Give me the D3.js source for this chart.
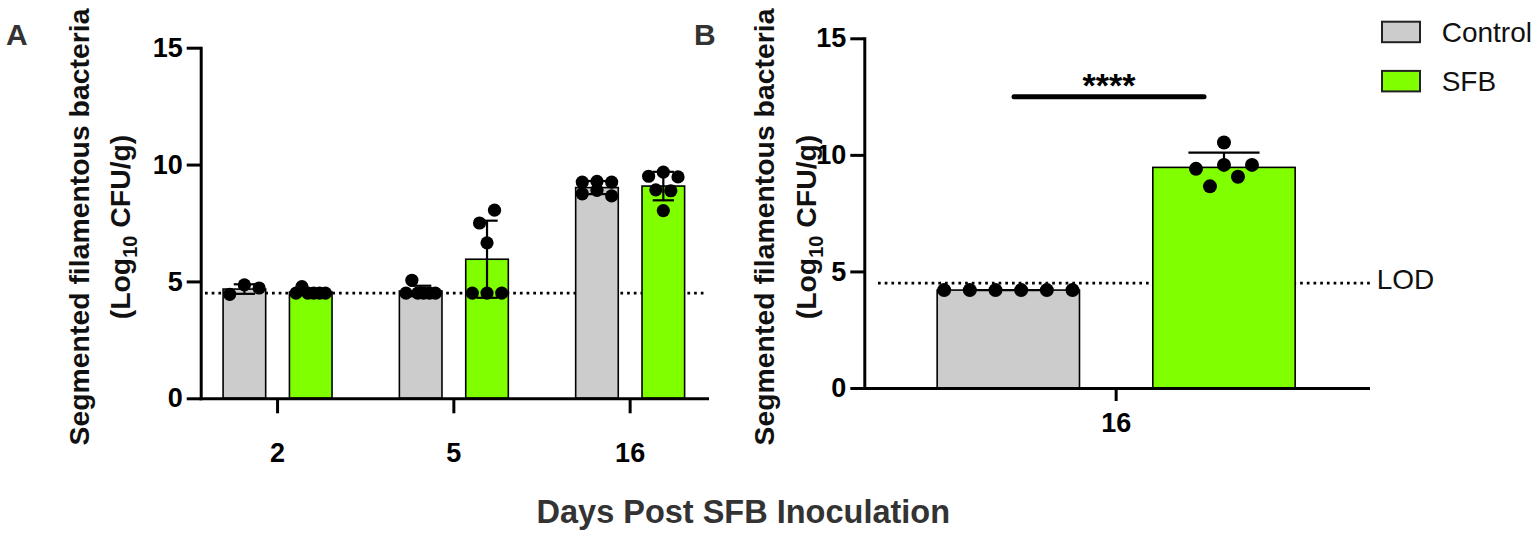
<!DOCTYPE html>
<html><head><meta charset="utf-8">
<script src="https://cdn.jsdelivr.net/npm/d3@7"></script>
<style>
html,body{margin:0;padding:0;background:#fff;}
svg{display:block;font-family:"Liberation Sans",Arial,Helvetica,sans-serif;}
</style></head><body>
<svg id="chart" width="1536" height="537"></svg>
<script>
// ---------- data ----------
const seriesNames = ["Control", "SFB"];
const daysA = ["2", "5", "16"];
const controlA = [
  [4.45, 4.85, 4.72],
  [4.5, 5.05, 4.5, 4.5, 4.5, 4.5],
  [8.75, 8.9, 8.66, 9.25, 9.28, 9.25]
];
const sfbA = [
  [4.5, 4.78, 4.5, 4.5, 4.5, 4.5],
  [7.5, 8.05, 6.65, 4.5, 4.5, 4.5],
  [9.5, 9.68, 9.47, 8.92, 8.88, 8.03]
];
const daysB = ["16"];
const controlB = [[4.2, 4.2, 4.2, 4.2, 4.2, 4.2]];
const sfbB = [[9.4, 9.57, 10.53, 8.65, 9.06, 9.57]];
const yTicks = [0, 5, 10, 15];
const lodValue = 4.5;
const sigLabel = "****";
const yLabel1 = "Segmented filamentous bacteria";
const xTitle = "Days Post SFB Inoculation";

// ---------- styles ----------
const fills = { Control: "#cccccc", SFB: "#80ff00" };
const svg = d3.select("#chart");
svg.append("rect").attr("width", 1536).attr("height", 537).attr("fill", "#fff");

function swarm(values, y, r, W, maxSp) {
  const D = 2 * r;
  const idx = d3.range(values.length).sort((a, b) => values[a] - values[b] || a - b);
  const rows = []; let cur = null;
  idx.forEach(i => {
    if (cur && Math.abs(y(values[i]) - y(values[cur[0]])) <= D) cur.push(i);
    else { cur = [i]; rows.push(cur); }
  });
  const off = new Array(values.length).fill(0);
  rows.forEach(row => {
    row.sort((a, b) => a - b);
    const n = row.length;
    const sp = n > 1 ? Math.min(maxSp, (W - D) / (n - 1)) : 0;
    row.forEach((i, k) => off[i] = (k - (n - 1) / 2) * sp);
  });
  return off;
}

function panel(cfg) {
  const data = { Control: cfg.control, SFB: cfg.sfb };
  const x = d3.scaleBand().domain(cfg.days).range(cfg.xRange)
    .paddingInner(cfg.innerPad).paddingOuter(cfg.outerPad);
  const sub = d3.scaleBand().domain(seriesNames).range([0, x.bandwidth()]).paddingInner(cfg.subPad);
  const y = d3.scaleLinear().domain([0, 15]).range(cfg.yRange);
  const g = svg.append("g");
  const bw = sub.bandwidth();

  // LOD dotted line (behind bars)
  g.append("line")
    .attr("x1", cfg.lodX[0]).attr("x2", cfg.lodX[1])
    .attr("y1", y(lodValue)).attr("y2", y(lodValue))
    .attr("stroke", "#000").attr("stroke-width", 2.7).attr("stroke-dasharray", "2.7 4");

  cfg.days.forEach((d, i) => {
    seriesNames.forEach(s => {
      const vals = data[s][i];
      const m = d3.mean(vals);
      const sd = d3.deviation(vals) || 0;
      const x0 = x(d) + sub(s);
      const cx = x0 + bw / 2;
      g.append("rect")
        .attr("x", x0).attr("y", y(m)).attr("width", bw).attr("height", y(0) - y(m))
        .attr("fill", fills[s]).attr("stroke", "#000").attr("stroke-width", 1.6);
      // error bars
      const lo = cfg.bothErr ? m - sd : m;
      g.append("line").attr("x1", cx).attr("x2", cx).attr("y1", y(lo)).attr("y2", y(m + sd))
        .attr("stroke", "#000").attr("stroke-width", 2.2);
      const caps = cfg.bothErr ? [m + sd, m - sd] : [m + sd];
      caps.forEach(c => {
        g.append("line").attr("x1", cx - bw / 4).attr("x2", cx + bw / 4).attr("y1", y(c)).attr("y2", y(c))
          .attr("stroke", "#000").attr("stroke-width", 2.2);
      });
      // dots
      const off = swarm(vals, y, cfg.r, bw, cfg.maxSp);
      g.selectAll(null).data(vals).enter().append("circle")
        .attr("cx", (v, k) => cx + off[k]).attr("cy", v => y(v)).attr("r", cfg.r)
        .attr("fill", "#000");
    });
  });

  // axes
  const ya = g.append("g").attr("transform", `translate(${cfg.xRange[0]},0)`)
    .call(d3.axisLeft(y).tickValues(yTicks).tickSize(14).tickSizeOuter(0).tickPadding(4));
  const xa = g.append("g").attr("transform", `translate(0,${y(0)})`)
    .call(d3.axisBottom(x).tickSize(cfg.xTick).tickSizeOuter(0).tickPadding(cfg.xPad));
  [ya, xa].forEach(a => {
    a.select(".domain").attr("stroke-width", 3).attr("stroke-linecap", "square");
    a.selectAll(".tick line").attr("stroke-width", 3);
    a.selectAll("text").attr("font-size", 27).attr("font-weight", "bold").attr("fill", "#000")
      .attr("font-family", "Liberation Sans, Arial, sans-serif");
  });

  // y label (two lines)
  g.append("text").attr("transform", `translate(${cfg.lab1},227) rotate(-90)`)
    .attr("text-anchor", "middle").attr("font-size", 28.4).attr("font-weight", "bold").attr("fill", "#111")
    .text(yLabel1);
  const t2 = g.append("text").attr("transform", `translate(${cfg.lab2},227) rotate(-90)`)
    .attr("text-anchor", "middle").attr("font-size", 28.4).attr("font-weight", "bold").attr("fill", "#111");
  t2.append("tspan").text("(Log");
  t2.append("tspan").attr("font-size", 20).attr("dy", 7).text("10");
  t2.append("tspan").attr("dy", -7).text(" CFU/g)");

  // panel letter
  g.append("text").attr("x", cfg.letterX).attr("y", 45).attr("font-size", 30).attr("font-weight", "bold")
    .attr("fill", "#333").text(cfg.letter);

  return { x, sub, y, bw };
}

panel({
  days: daysA, control: controlA, sfb: sfbA,
  xRange: [200.7, 707], innerPad: 0.382, outerPad: 0.127, subPad: 0.358,
  yRange: [398.3, 47.7], r: 6.6, maxSp: 15, bothErr: true,
  lodX: [205, 707], xTick: 15, xPad: 30, lab1: 88.5, lab2: 130, letter: "A", letterX: 6
});

const pB = panel({
  days: daysB, control: controlB, sfb: sfbB,
  xRange: [864.3, 1368], innerPad: 0, outerPad: 0.2035, subPad: 0.34,
  yRange: [388, 38.3], r: 7, maxSp: 28, bothErr: false,
  lodX: [878, 1370], xTick: 13, xPad: 12, lab1: 774, lab2: 816, letter: "B", letterX: 694
});

// significance annotation (panel B)
const xg = pB.x(daysB[0]);
const sx1 = xg + pB.sub("Control") + 0.54 * pB.bw;
const sx2 = xg + pB.sub("SFB") + 0.36 * pB.bw;
svg.append("line").attr("x1", sx1).attr("x2", sx2).attr("y1", 96.7).attr("y2", 96.7)
  .attr("stroke", "#000").attr("stroke-width", 5).attr("stroke-linecap", "round");
svg.append("text").attr("x", (sx1 + sx2) / 2).attr("y", 97).attr("text-anchor", "middle")
  .attr("font-size", 34).attr("font-weight", "bold").attr("fill", "#000").text(sigLabel);

// LOD label
svg.append("text").attr("x", 1376.7).attr("y", 289.3).attr("font-size", 28).attr("fill", "#111").text("LOD");

// legend
seriesNames.forEach((s, i) => {
  const yy = 21.7 + i * 49.2;
  svg.append("rect").attr("x", 1382).attr("y", yy).attr("width", 38).attr("height", 20.5)
    .attr("fill", fills[s]).attr("stroke", "#222").attr("stroke-width", 2);
  svg.append("text").attr("x", 1441.7).attr("y", yy + 20).attr("font-size", 28).attr("fill", "#111").text(s);
});

// x title
svg.append("text").attr("x", 743.3).attr("y", 523).attr("text-anchor", "middle")
  .attr("font-size", 32.5).attr("font-weight", "bold").attr("fill", "#333").text(xTitle);
</script>
</body></html>
